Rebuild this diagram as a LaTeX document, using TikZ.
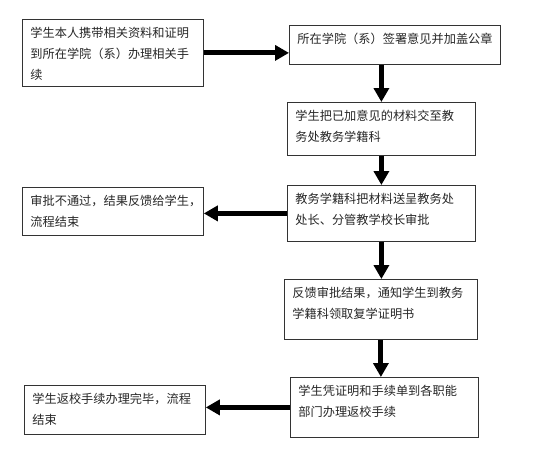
\documentclass[tikz,border=0pt]{standalone}
\usepackage{fontspec}
\newfontfamily\cjk{Noto Sans CJK SC}
\usetikzlibrary{arrows.meta}

\newcommand{\boxtext}[3]{\parbox[c][#2][t]{#1}{\cjk\fontsize{12.2}{21}\selectfont\raggedright #3}}

\begin{document}
\begin{tikzpicture}[x=1pt, y=-1pt,
    stepbox/.style={draw=black!80, line width=0.8pt, anchor=north west, inner sep=8pt, text=black!85},
    flow/.style={line width=5pt, -{Triangle[length=14pt,width=15pt]}}]

\useasboundingbox (0,0) rectangle (554,453);

\node[stepbox] (apply) at (22,19) {\boxtext{165pt}{51pt}{学生本人携带相关资料和证明\\到所在学院（系）办理相关手\\续}};
\node[stepbox] (college) at (289,25) {\boxtext{195pt}{23pt}{所在学院（系）签署意见并加盖公章}};
\node[stepbox] (submit) at (287,102) {\boxtext{172pt}{37pt}{学生把已加意见的材料交至教\\务处教务学籍科}};
\node[stepbox] (reject) at (22,187) {\boxtext{165pt}{32pt}{审批不通过，结果反馈给学生，\\流程结束}};
\node[stepbox] (approve) at (287,185) {\boxtext{172pt}{40pt}{教务学籍科把材料送呈教务处\\处长、分管教学校长审批}};
\node[stepbox] (notify) at (284,279) {\boxtext{177pt}{44pt}{反馈审批结果，通知学生到教务\\学籍科领取复学证明书}};
\node[stepbox] (depts) at (290,377) {\boxtext{172pt}{44pt}{学生凭证明和手续单到各职能\\部门办理返校手续}};
\node[stepbox] (done) at (24,385) {\boxtext{165pt}{33pt}{学生返校手续办理完毕，流程\\结束}};

\draw[flow] (apply.east) -- (apply.east -| college.west);
\draw[flow] (submit.north |- college.south) -- (submit.north);
\draw[flow] (submit.south) -- (submit.south |- approve.north);
\draw[flow] (approve.west) -- (approve.west -| reject.east);
\draw[flow] (approve.south) -- (approve.south |- notify.north);
\draw[flow] (notify.south) -- (notify.south |- depts.north);
\draw[flow] (depts.west) -- (depts.west -| done.east);
\end{tikzpicture}
\end{document}
